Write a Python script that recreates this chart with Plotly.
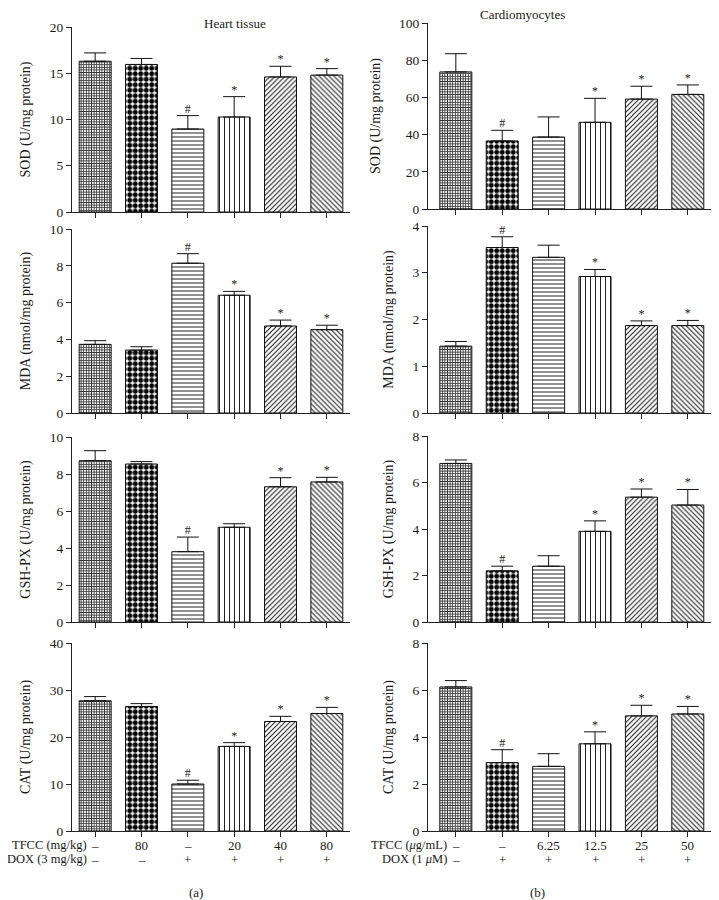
import plotly.graph_objects as go

# ---------------- data ----------------
groups = [0, 1, 2, 3, 4, 5]

heart_sod = [16.3, 15.95, 8.97, 10.27, 14.6, 14.8]
heart_sod_sd = [0.9, 0.65, 1.45, 2.2, 1.15, 0.7]
heart_mda = [3.73, 3.42, 8.14, 6.4, 4.73, 4.53]
heart_mda_sd = [0.2, 0.18, 0.52, 0.21, 0.32, 0.24]
heart_gsh = [8.72, 8.54, 3.80, 5.12, 7.31, 7.57]
heart_gsh_sd = [0.54, 0.13, 0.79, 0.19, 0.49, 0.25]
heart_cat = [27.7, 26.5, 10.0, 18.0, 23.3, 25.0]
heart_cat_sd = [0.9, 0.6, 0.8, 0.8, 1.1, 1.3]

cardio_sod = [73.7, 36.6, 38.7, 46.6, 59.1, 61.6]
cardio_sod_sd = [9.8, 5.7, 10.8, 12.9, 6.9, 5.1]
cardio_mda = [1.43, 3.54, 3.33, 2.92, 1.87, 1.87]
cardio_mda_sd = [0.1, 0.23, 0.26, 0.15, 0.1, 0.11]
cardio_gsh = [6.82, 2.2, 2.4, 3.9, 5.37, 5.03]
cardio_gsh_sd = [0.15, 0.2, 0.45, 0.45, 0.35, 0.67]
cardio_cat = [6.13, 2.91, 2.75, 3.71, 4.9, 4.98]
cardio_cat_sd = [0.27, 0.55, 0.54, 0.51, 0.45, 0.32]

heart_sig_sod = ["", "", "#", "*", "*", "*"]
heart_sig_mda = ["", "", "#", "*", "*", "*"]
heart_sig_gsh = ["", "", "#", "", "*", "*"]
heart_sig_cat = ["", "", "#", "*", "*", "*"]
cardio_sig = ["", "#", "", "*", "*", "*"]

heart_titles = ["SOD (U/mg protein)", "MDA (nmol/mg protein)",
                "GSH-PX (U/mg protein)", "CAT (U/mg protein)"]
cardio_titles = heart_titles

heart_tfcc = ["–", "80", "–", "20", "40", "80"]
heart_dox = ["–", "–", "+", "+", "+", "+"]
cardio_tfcc = ["–", "–", "6.25", "12.5", "25", "50"]
cardio_dox = ["–", "+", "+", "+", "+", "+"]

# ---------------- layout helpers ----------------
W, H = 719, 900
OFF = 8  # page body margin
FONT = "Liberation Serif"
TXT = "#1a1a1a"


def fx(px):
    return (px - OFF) / W


def fy(py):
    return 1 - (py - OFF) / H


shapes = ["+", ".", "-", "|", "/", "\\"]
psizes = [2.6, 5.5, 4, 5, 3.5, 3.5]
psolid = [0.55, 0.62, 0.25, 0.2, 0.32, 0.32]
pfg = ["#333333", "#000000", "#222222", "#222222", "#222222", "#222222"]

panels = [
    (heart_sod, heart_sod_sd, heart_sig_sod, heart_titles[0], [0, 20], 5, (72, 350), (212, 27), [-0.5, 5.5]),
    (cardio_sod, cardio_sod_sd, cardio_sig, cardio_titles[0], [0, 100], 20, (428, 711), (209, 23), [-0.6, 5.5]),
    (heart_mda, heart_mda_sd, heart_sig_mda, heart_titles[1], [0, 10], 2, (72, 350), (413, 229), [-0.5, 5.5]),
    (cardio_mda, cardio_mda_sd, cardio_sig, cardio_titles[1], [0, 4], 1, (428, 711), (413, 226), [-0.6, 5.5]),
    (heart_gsh, heart_gsh_sd, heart_sig_gsh, heart_titles[2], [0, 10], 2, (72, 350), (622, 437), [-0.5, 5.5]),
    (cardio_gsh, cardio_gsh_sd, cardio_sig, cardio_titles[2], [0, 8], 2, (428, 711), (622, 436), [-0.6, 5.5]),
    (heart_cat, heart_cat_sd, heart_sig_cat, heart_titles[3], [0, 40], 10, (72, 350), (831, 643), [-0.5, 5.5]),
    (cardio_cat, cardio_cat_sd, cardio_sig, cardio_titles[3], [0, 8], 2, (428, 711), (831, 643), [-0.6, 5.5]),
]

fig = go.Figure()
layout = dict(
    width=W, height=H, margin=dict(l=0, r=0, t=0, b=0, autoexpand=False),
    paper_bgcolor="white", plot_bgcolor="white", showlegend=False,
    font=dict(family=FONT, size=12, color=TXT),
)
annotations = []

for i, (vals, sd, sig, title, yr, dt, xd, yd, xr) in enumerate(panels):
    n = i + 1
    xa = "x" if n == 1 else f"x{n}"
    ya = "y" if n == 1 else f"y{n}"
    fig.add_trace(go.Bar(
        x=groups, y=vals, xaxis=xa, yaxis=ya, width=0.69,
        marker=dict(color="white",
                    line=dict(color="#111", width=1),
                    pattern=dict(shape=shapes, size=psizes, solidity=psolid,
                                 fgcolor=pfg, bgcolor="white", fillmode="replace")),
        error_y=dict(type="data", symmetric=False, array=sd,
                     arrayminus=[0] * len(sd), color="#111", thickness=1, width=11),
        hoverinfo="skip",
    ))
    tops = [v + s for v, s in zip(vals, sd)]
    fig.add_trace(go.Scatter(
        x=groups, y=tops, xaxis=xa, yaxis=ya, mode="text", text=sig,
        textposition="top center", textfont=dict(family=FONT, size=12, color=TXT),
        hoverinfo="skip", cliponaxis=False,
    ))
    xkey = "xaxis" if n == 1 else f"xaxis{n}"
    ykey = "yaxis" if n == 1 else f"yaxis{n}"
    layout[xkey] = dict(
        domain=[fx(xd[0]), fx(xd[1])], range=xr, anchor=ya, automargin=False,
        showline=True, linecolor="#222", linewidth=1, showgrid=False, zeroline=False,
        ticks="outside", ticklen=5, tickcolor="#222", tickvals=groups,
        showticklabels=False, fixedrange=True,
    )
    layout[ykey] = dict(
        domain=[fy(yd[0]), fy(yd[1])], range=yr, anchor=xa, automargin=False,
        showline=True, linecolor="#222", linewidth=1, showgrid=False, zeroline=False,
        ticks="outside", ticklen=5, tickcolor="#222", dtick=dt, tick0=0,
        tickfont=dict(family=FONT, size=13.5, color=TXT),
        title=dict(text=title, font=dict(family=FONT, size=14, color=TXT)),
        fixedrange=True,
    )

# panel titles
annotations.append(dict(text="Heart tissue", x=fx(202), y=fy(23), xref="paper", yref="paper",
                        showarrow=False, yanchor="middle", font=dict(family=FONT, size=13, color=TXT)))
annotations.append(dict(text="Cardiomyocytes", x=fx(567), y=fy(14), xref="paper", yref="paper",
                        showarrow=False, yanchor="middle", font=dict(family=FONT, size=13, color=TXT)))

# bottom group labels
rows = [
    ("x7", "TFCC (mg/kg)", heart_tfcc, 845),
    ("x7", "DOX (3 mg/kg)", heart_dox, 859),
    ("x8", "TFCC (<i>μ</i>g/mL)", cardio_tfcc, 845),
    ("x8", "DOX (1 <i>μ</i>M)", cardio_dox, 859),
]
for xa, lab, vals, ypx in rows:
    for g, v in zip(groups, vals):
        annotations.append(dict(text=v, x=g, y=fy(ypx), xref=xa, yref="paper",
                                showarrow=False, xanchor="center", yanchor="middle",
                                font=dict(family=FONT, size=13, color=TXT)))
    annotations.append(dict(text=lab, x=-0.14, y=fy(ypx), xref=xa, yref="paper",
                            showarrow=False, xanchor="right", yanchor="middle",
                            font=dict(family=FONT, size=12.5, color=TXT)))

annotations.append(dict(text="(a)", x=fx(187), y=fy(892), xref="paper", yref="paper",
                        showarrow=False, yanchor="middle", font=dict(family=FONT, size=13, color=TXT)))
annotations.append(dict(text="(b)", x=fx(547), y=fy(892), xref="paper", yref="paper",
                        showarrow=False, yanchor="middle", font=dict(family=FONT, size=13, color=TXT)))

layout["annotations"] = annotations
fig.update_layout(**layout)
fig.write_html("out.html")
